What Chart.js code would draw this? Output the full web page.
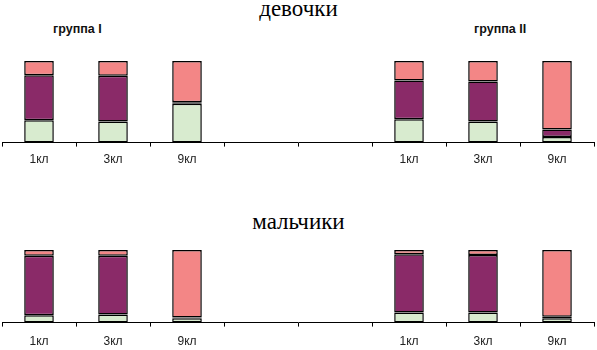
<!DOCTYPE html>
<html>
<head>
<meta charset="utf-8">
<script src="https://cdn.jsdelivr.net/npm/chart.js@4.4.1/dist/chart.umd.min.js"></script>
<style>
  body { margin: 0; background: #fff; }
  #wrap { position: relative; width: 597px; height: 350px; overflow: hidden; }
  canvas { position: absolute; left: 0; }
  .title { position: absolute; width: 597px; text-align: center; font-family: 'Liberation Serif', serif; font-size: 23px; color: #000; line-height: 23px; }
  .group { position: absolute; font-family: 'Liberation Sans', Arial, sans-serif; font-weight: bold; font-size: 12.5px; color: #111; line-height: 13px; }
</style>
</head>
<body>
<div id="wrap">
  <div class="title" style="top:-3px">девочки</div>
  <div class="group" style="left:53px; top:23px">группа I</div>
  <div class="group" style="left:474px; top:23px">группа II</div>
  <canvas id="girlsChart" width="597" height="175" style="top:0"></canvas>
  <div class="title" style="top:210px">мальчики</div>
  <canvas id="boysChart" width="597" height="187" style="top:175px"></canvas>
</div>
<script>
// categories (two empty slots separate the groups)
const categories = ['1кл', '3кл', '9кл', '', '', '1кл', '3кл', '9кл'];

// girls, % of bar
const girlsGreen  = [27.5, 26, 47.5, null, null, 28.5, 26, 7];
const girlsPurple = [55, 56, 2, null, null, 47.5, 49, 9];
const girlsPink   = [17.5, 18, 50.5, null, null, 24, 25, 84];

// boys, % of bar
const boysGreen  = [10, 11, 6, null, null, 14, 14, 6];
const boysPurple = [82, 81, 1, null, null, 80, 79, 2];
const boysPink   = [8, 8, 93, null, null, 6, 7, 92];

const colors = { green: '#d8ebcf', purple: '#8a2a68', pink: '#f38686' };

function makeDataset(data, color) {
    return {
        data: data,
        backgroundColor: color,
        borderColor: '#000',
        borderWidth: 1.5,
        borderSkipped: false,
        barPercentage: 0.4,
        categoryPercentage: 1
    };
}

function makeChart(id, green, purple, pink, padding, tickPad) {
    const ctx = document.getElementById(id);
    return new Chart(ctx, {
        type: 'bar',
        data: {
            labels: categories,
            datasets: [
                makeDataset(green, colors.green),
                makeDataset(purple, colors.purple),
                makeDataset(pink, colors.pink)
            ]
        },
        options: {
            responsive: false,
            animation: false,
            layout: { padding: padding },
            plugins: {
                legend: { display: false },
                tooltip: { enabled: false }
            },
            scales: {
                x: {
                    stacked: true,
                    grid: {
                        offset: true,
                        drawOnChartArea: false,
                        drawTicks: true,
                        tickLength: 4,
                        color: '#000'
                    },
                    border: { color: '#000', width: 1 },
                    ticks: {
                        padding: tickPad,
                        color: '#222',
                        font: { family: "'Liberation Sans', Arial, sans-serif", size: 12 }
                    }
                },
                y: {
                    stacked: true,
                    display: false,
                    min: 0,
                    max: 100
                }
            }
        }
    });
}

makeChart('girlsChart', girlsGreen, girlsPurple, girlsPink, { top: 61, left: 2, right: 3, bottom: 2 }, 6);
makeChart('boysChart', boysGreen, boysPurple, boysPink, { top: 75, left: 2, right: 3, bottom: 5 }, 8);
</script>
</body>
</html>
